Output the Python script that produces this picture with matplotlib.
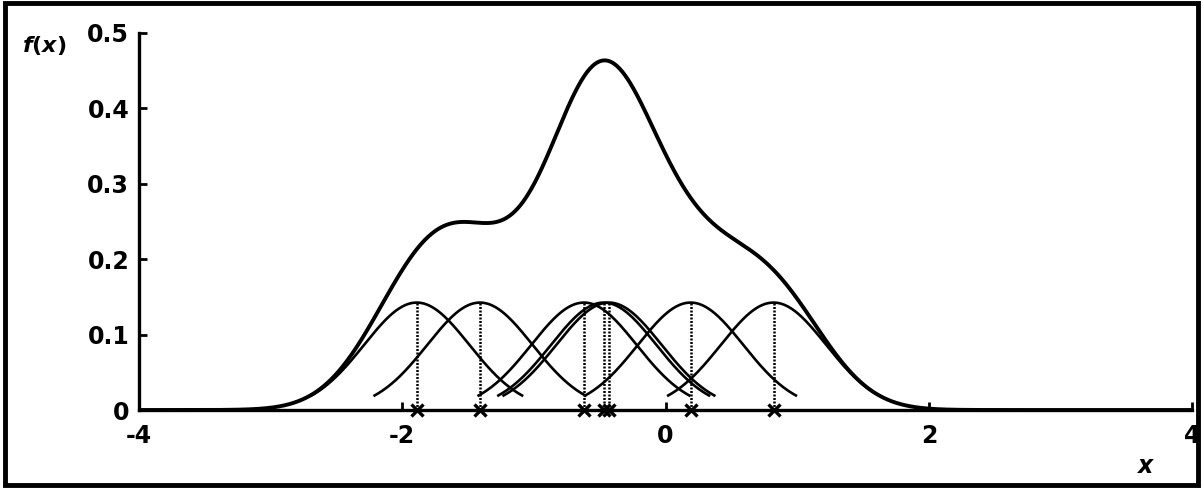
import numpy as np
import matplotlib.pyplot as plt
from matplotlib.patches import Rectangle

obs = [-1.89, -1.41, -0.62, -0.47, -0.43, 0.19, 0.82]
h = 0.4
x_ticks = [-4, -2, 0, 2, 4]
x_ticklabels = ["-4", "-2", "0", "2", "4"]
y_ticks = [0, 0.1, 0.2, 0.3, 0.4, 0.5]
y_ticklabels = ["0", "0.1", "0.2", "0.3", "0.4", "0.5"]


def gauss(x, mu):
    return np.exp(-0.5 * ((x - mu) / h) ** 2) / (len(obs) * h * np.sqrt(2 * np.pi))


fig = plt.figure(figsize=(12.03, 4.88), dpi=100)
ax = fig.add_axes([0.1155, 0.1598, 0.8755, 0.7726])

xs = np.linspace(-4, 4, 1200)
total = sum(gauss(xs, m) for m in obs)
ax.plot(xs, total, color="black", lw=2.8, solid_capstyle="butt", zorder=3)

# individual kernels, drawn over +/- 2h
for m in obs:
    xk = np.linspace(m - 2 * h, m + 2 * h, 200)
    ax.plot(xk, gauss(xk, m), color="black", lw=1.9, zorder=2)
    ax.plot([m, m], [0, gauss(m, m)], color="black", lw=1.8, ls=(0, (0.8, 0.6)), zorder=2)
    ax.plot(m, 0, marker="x", color="black", ms=9, mew=2.4, zorder=4, clip_on=False)

ax.set_xlim(-4, 4)
ax.set_ylim(0, 0.5)
for s in ["top", "right"]:
    ax.spines[s].set_visible(False)
for s in ["left", "bottom"]:
    ax.spines[s].set_linewidth(2.4)

ax.set_xticks(x_ticks)
ax.set_xticklabels(x_ticklabels)
ax.set_yticks(y_ticks)
ax.set_yticklabels(y_ticklabels)
ax.tick_params(direction="in", length=6, width=2, labelsize=17)
ax.tick_params(axis="x", pad=10)
ax.tick_params(axis="y", pad=7)
for lab in ax.get_xticklabels() + ax.get_yticklabels():
    lab.set_fontweight("bold")

fig.text(0.018, 0.893, "$\\boldsymbol{f(x)}$", fontsize=16, fontweight="bold")
fig.text(0.946, 0.03, "x", fontsize=17, fontweight="bold", style="italic")

fig.patches.append(Rectangle((0.004, 0.006), 0.992, 0.988, transform=fig.transFigure,
                             fill=False, edgecolor="black", lw=3.5))

fig.savefig("out.png", dpi=100)
